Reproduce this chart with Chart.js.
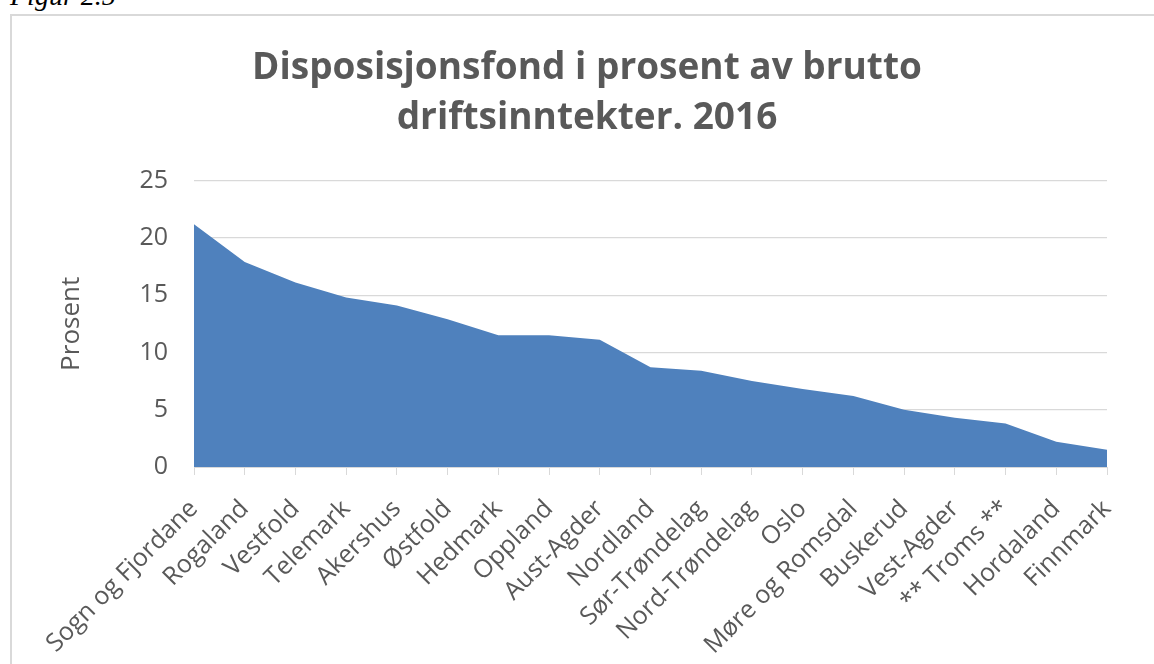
<!DOCTYPE html>
<html>
<head>
<meta charset="utf-8">
<script src="https://cdn.jsdelivr.net/npm/chart.js@4"></script>
<style>
  html, body { margin: 0; padding: 0; background: #fff; width: 1154px; height: 664px; overflow: hidden; }
  .fig-label {
    position: absolute; left: 10px; top: -18px;
    font-family: "Liberation Serif", serif; font-style: italic;
    font-size: 28px; line-height: 28px; color: #000;
  }
  .chart-box {
    position: absolute; left: 10px; top: 14px;
    width: 1150px; height: 660px;
    border: 2px solid #d9d9d9;
  }
</style>
</head>
<body>
<div class="fig-label">Figur 2.5</div>
<div class="chart-box"><canvas id="fondChart" width="1150" height="660"></canvas></div>
<script>
// fylker, sortert etter andel
const fylker = [
    'Sogn og Fjordane', 'Rogaland', 'Vestfold', 'Telemark', 'Akershus', 'Østfold',
    'Hedmark', 'Oppland', 'Aust-Agder', 'Nordland', 'Sør-Trøndelag', 'Nord-Trøndelag',
    'Oslo', 'Møre og Romsdal', 'Buskerud', 'Vest-Agder', '** Troms **', 'Hordaland', 'Finnmark'
];
// disposisjonsfond i prosent av brutto driftsinntekter
const prosent = [
    21.2, 17.9, 16.1, 14.8, 14.1, 12.9,
    11.5, 11.5, 11.1, 8.7, 8.4, 7.5,
    6.8, 6.2, 5.0, 4.3, 3.8, 2.2, 1.5
];
const yTicks = [0, 5, 10, 15, 20, 25];

const grey = '#595959';
const gridGrey = '#d9d9d9';
const font = '"Open Sans", "Noto Sans", sans-serif';

const ctx = document.getElementById('fondChart').getContext('2d');

new Chart(ctx, {
    type: 'line',
    data: {
        labels: fylker,
        datasets: [{
            data: prosent,
            backgroundColor: '#4f81bd',
            borderWidth: 0,
            fill: 'origin',
            tension: 0,
            pointRadius: 0,
        }]
    },
    options: {
        responsive: false,
        animation: false,
        layout: { padding: 0 },
        plugins: {
            legend: { display: false },
            tooltip: { enabled: false },
            title: {
                display: true,
                text: ['Disposisjonsfond i prosent av brutto', 'driftsinntekter. 2016'],
                color: grey,
                font: { family: font, size: 37, weight: 'bold', lineHeight: 1.36 },
                padding: { top: 27, bottom: 37 }
            }
        },
        scales: {
            x: {
                offset: false,
                afterFit: s => { s.height = 209; },
                border: { color: gridGrey, width: 1 },
                grid: {
                    drawOnChartArea: false,
                    drawTicks: true,
                    tickLength: 8,
                    color: gridGrey
                },
                ticks: {
                    autoSkip: false,
                    maxRotation: 45,
                    minRotation: 45,
                    padding: 21,
                    color: grey,
                    font: { family: font, size: 25, lineHeight: 1.0 }
                }
            },
            y: {
                min: 0,
                max: 25,
                afterFit: s => { s.width = 182; },
                afterBuildTicks: s => { s.ticks = yTicks.map(v => ({ value: v })); },
                border: { display: false },
                grid: { color: gridGrey, lineWidth: 1.2, drawTicks: false },
                ticks: {
                    padding: 26,
                    color: grey,
                    font: { family: font, size: 25 }
                },
                title: {
                    display: true,
                    text: 'Prosent',
                    color: grey,
                    font: { family: font, size: 26 },
                    padding: { top: 44, bottom: 0 }
                }
            },
            // empty right margin so the title centres on the whole box
            spacer: {
                type: 'linear',
                position: 'right',
                afterFit: s => { s.width = 55; },
                grid: { display: false },
                border: { display: false },
                ticks: { display: false }
            }
        }
    }
});
</script>
</body>
</html>
